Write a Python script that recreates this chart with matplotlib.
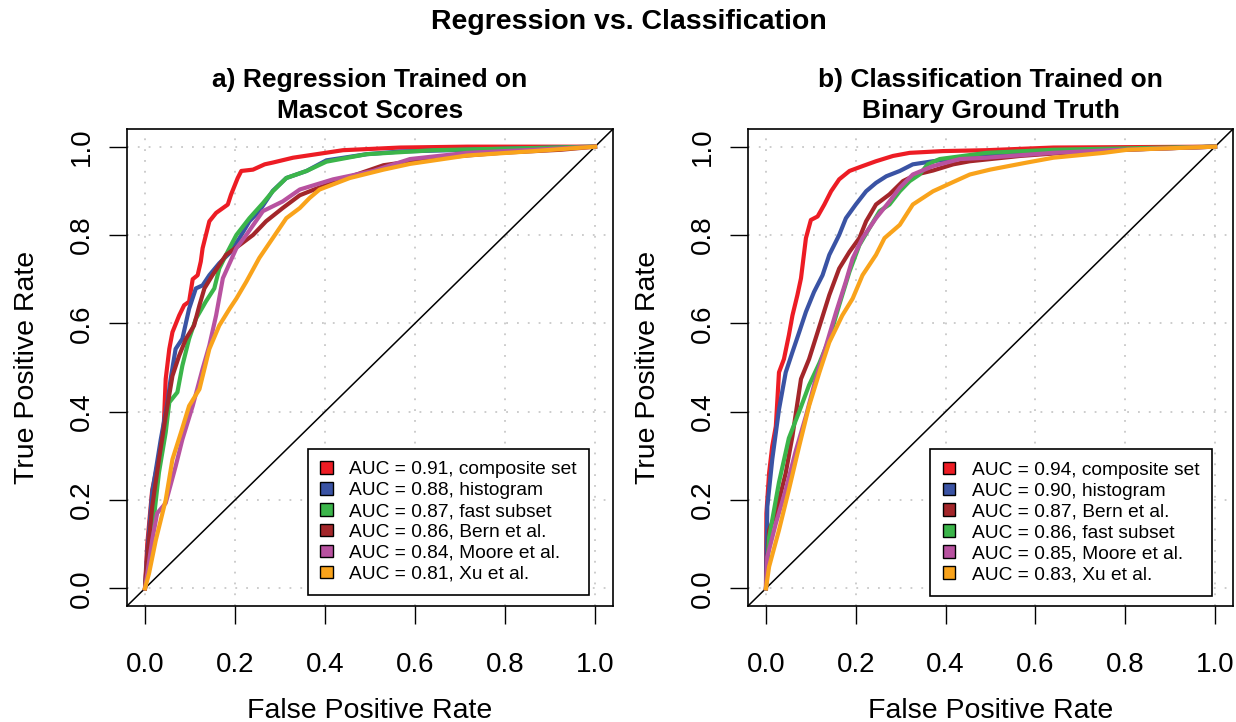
import matplotlib
matplotlib.use("Agg")
import matplotlib.pyplot as plt
from matplotlib.patches import Patch
import numpy as np

plt.rcParams["font.family"] = ["Liberation Sans", "DejaVu Sans"]

# colours used for each scoring method
RED = "#ED1C24"
BLUE = "#3A53A4"
GREEN = "#3BB54A"
DARKRED = "#A3262A"
MAGENTA = "#B852A0"
ORANGE = "#F9A31B"

# ---- a) regression trained on Mascot scores ----
reg_labels = [
    "AUC = 0.91, composite set",
    "AUC = 0.88, histogram",
    "AUC = 0.87, fast subset",
    "AUC = 0.86, Bern et al.",
    "AUC = 0.84, Moore et al.",
    "AUC = 0.81, Xu et al.",
]
reg_colors = [RED, BLUE, GREEN, DARKRED, MAGENTA, ORANGE]

reg_composite_fpr = [0, 0.005, 0.016, 0.024, 0.035, 0.042, 0.046, 0.054, 0.061, 0.076, 0.087, 0.098,
                     0.106, 0.117, 0.124, 0.128, 0.143, 0.158, 0.184, 0.191, 0.206, 0.214, 0.24,
                     0.266, 0.284, 0.329, 0.388, 0.44, 0.567, 0.716, 1.0]
reg_composite_tpr = [0, 0.10, 0.223, 0.262, 0.314, 0.375, 0.474, 0.542, 0.58, 0.618, 0.641, 0.649,
                     0.70, 0.709, 0.74, 0.77, 0.831, 0.85, 0.869, 0.891, 0.929, 0.945, 0.948,
                     0.96, 0.964, 0.975, 0.984, 0.992, 0.998, 1.0, 1.0]

reg_histogram_fpr = [0, 0.005, 0.016, 0.035, 0.05, 0.057, 0.068, 0.083, 0.098, 0.113, 0.128, 0.143,
                     0.165, 0.188, 0.21, 0.232, 0.254, 0.284, 0.314, 0.359, 0.403, 0.493, 0.567,
                     0.679, 0.79, 1.0]
reg_histogram_tpr = [0, 0.08, 0.216, 0.337, 0.421, 0.474, 0.542, 0.565, 0.633, 0.679, 0.686, 0.709,
                     0.736, 0.759, 0.793, 0.831, 0.854, 0.9, 0.929, 0.945, 0.969, 0.983, 0.989,
                     0.992, 0.995, 1.0]

reg_fast_fpr = [0, 0.005, 0.02, 0.031, 0.046, 0.054, 0.072, 0.083, 0.098, 0.113, 0.135, 0.154,
                0.165, 0.18, 0.203, 0.232, 0.262, 0.284, 0.314, 0.359, 0.403, 0.493, 0.641, 1.0]
reg_fast_tpr = [0, 0.049, 0.162, 0.262, 0.353, 0.421, 0.444, 0.504, 0.565, 0.61, 0.649, 0.679,
                0.724, 0.755, 0.80, 0.838, 0.872, 0.899, 0.929, 0.945, 0.966, 0.983, 0.992, 1.0]

reg_bern_fpr = [0, 0.005, 0.016, 0.031, 0.046, 0.061, 0.076, 0.091, 0.109, 0.121, 0.132, 0.15,
                0.18, 0.21, 0.24, 0.269, 0.306, 0.344, 0.381, 0.433, 0.53, 0.641, 0.79, 0.924, 1.0]
reg_bern_tpr = [0, 0.07, 0.185, 0.292, 0.39, 0.481, 0.527, 0.565, 0.595, 0.641, 0.679, 0.709,
                0.755, 0.777, 0.80, 0.831, 0.861, 0.89, 0.905, 0.924, 0.958, 0.974, 0.986, 0.993, 1.0]

reg_moore_fpr = [0, 0.009, 0.016, 0.027, 0.046, 0.068, 0.083, 0.106, 0.128, 0.143, 0.158, 0.173,
                 0.203, 0.225, 0.262, 0.306, 0.344, 0.418, 0.507, 0.589, 0.716, 0.864, 1.0]
reg_moore_tpr = [0, 0.06, 0.109, 0.17, 0.193, 0.276, 0.337, 0.413, 0.497, 0.55, 0.618, 0.702,
                 0.77, 0.80, 0.854, 0.876, 0.903, 0.926, 0.945, 0.972, 0.986, 0.993, 1.0]

reg_xu_fpr = [0, 0.009, 0.024, 0.046, 0.061, 0.08, 0.098, 0.121, 0.143, 0.165, 0.188, 0.203,
              0.225, 0.254, 0.284, 0.314, 0.344, 0.366, 0.388, 0.455, 0.53, 0.589, 0.716, 0.864, 1.0]
reg_xu_tpr = [0, 0.034, 0.109, 0.2, 0.292, 0.353, 0.413, 0.451, 0.542, 0.595, 0.633, 0.656,
              0.694, 0.748, 0.793, 0.838, 0.861, 0.884, 0.903, 0.929, 0.948, 0.961, 0.98, 0.99, 1.0]

# ---- b) classification trained on binary ground truth ----
cls_labels = [
    "AUC = 0.94, composite set",
    "AUC = 0.90, histogram",
    "AUC = 0.87, Bern et al.",
    "AUC = 0.86, fast subset",
    "AUC = 0.85, Moore et al.",
    "AUC = 0.83, Xu et al.",
]
cls_colors = [RED, BLUE, DARKRED, GREEN, MAGENTA, ORANGE]

cls_composite_fpr = [0, 0.001, 0.007, 0.014, 0.022, 0.029, 0.04, 0.051, 0.059, 0.07, 0.078, 0.089,
                     0.1, 0.115, 0.13, 0.145, 0.163, 0.186, 0.215, 0.245, 0.283, 0.32, 0.394,
                     0.491, 0.64, 1.0]
cls_composite_tpr = [0, 0.17, 0.261, 0.322, 0.367, 0.489, 0.519, 0.573, 0.618, 0.664, 0.702, 0.793,
                     0.834, 0.842, 0.869, 0.899, 0.926, 0.945, 0.956, 0.967, 0.979, 0.986, 0.99,
                     0.992, 0.998, 1.0]

cls_histogram_fpr = [0, 0.003, 0.014, 0.029, 0.044, 0.059, 0.074, 0.089, 0.107, 0.126, 0.141, 0.163,
                     0.178, 0.2, 0.223, 0.245, 0.268, 0.298, 0.327, 0.372, 0.432, 0.491, 0.64,
                     0.79, 1.0]
cls_histogram_tpr = [0, 0.185, 0.292, 0.405, 0.489, 0.535, 0.58, 0.626, 0.671, 0.709, 0.755, 0.80,
                     0.838, 0.869, 0.899, 0.918, 0.933, 0.945, 0.96, 0.967, 0.975, 0.979, 0.986,
                     0.993, 1.0]

cls_bern_fpr = [0, 0.007, 0.022, 0.044, 0.059, 0.078, 0.096, 0.115, 0.141, 0.163, 0.186, 0.208,
                0.223, 0.245, 0.275, 0.305, 0.335, 0.372, 0.417, 0.454, 0.566, 0.715, 1.0]
cls_bern_tpr = [0, 0.132, 0.17, 0.261, 0.345, 0.474, 0.519, 0.58, 0.664, 0.724, 0.762, 0.793,
                0.831, 0.869, 0.892, 0.922, 0.937, 0.946, 0.96, 0.967, 0.979, 0.99, 1.0]

cls_fast_fpr = [0, 0.007, 0.029, 0.051, 0.074, 0.096, 0.119, 0.141, 0.163, 0.186, 0.208, 0.23,
                0.253, 0.275, 0.298, 0.32, 0.342, 0.36, 0.387, 0.491, 0.64, 1.0]
cls_fast_tpr = [0, 0.115, 0.24, 0.34, 0.40, 0.46, 0.51, 0.565, 0.641, 0.717, 0.777, 0.815,
                0.854, 0.869, 0.899, 0.922, 0.937, 0.96, 0.972, 0.986, 0.993, 1.0]

cls_moore_fpr = [0, 0.003, 0.022, 0.044, 0.066, 0.089, 0.111, 0.134, 0.156, 0.178, 0.193, 0.215,
                 0.245, 0.275, 0.298, 0.327, 0.372, 0.432, 0.491, 0.64, 0.79, 1.0]
cls_moore_tpr = [0, 0.071, 0.147, 0.223, 0.31, 0.39, 0.475, 0.55, 0.625, 0.695, 0.747, 0.793,
                 0.838, 0.876, 0.907, 0.937, 0.956, 0.972, 0.975, 0.986, 0.993, 1.0]

cls_xu_fpr = [0, 0.007, 0.029, 0.051, 0.074, 0.096, 0.119, 0.141, 0.17, 0.193, 0.215, 0.245,
              0.264, 0.298, 0.327, 0.372, 0.417, 0.454, 0.499, 0.581, 0.64, 0.752, 0.805, 1.0]
cls_xu_tpr = [0, 0.049, 0.132, 0.223, 0.322, 0.413, 0.489, 0.557, 0.618, 0.656, 0.709, 0.755,
              0.793, 0.823, 0.869, 0.899, 0.92, 0.937, 0.948, 0.964, 0.975, 0.986, 0.993, 1.0]

tick_vals = [0.0, 0.2, 0.4, 0.6, 0.8, 1.0]
tick_text = ["0.0", "0.2", "0.4", "0.6", "0.8", "1.0"]


def draw_panel(ax, curves, labels, colors, legend_anchor):
    lo, hi = -0.04, 1.04
    ax.set_xlim(lo, hi)
    ax.set_ylim(lo, hi)

    # dotted light grey grid at the tick positions
    for t in tick_vals:
        ax.axvline(t, color="#C8C8C8", lw=1.3, ls=(0, (1, 5)), zorder=0)
        ax.axhline(t, color="#C8C8C8", lw=1.3, ls=(0, (1, 5)), zorder=0)

    # chance line
    ax.plot([lo, hi], [lo, hi], color="black", lw=1.1, zorder=1)

    for (fpr, tpr), color in zip(curves, colors):
        ax.plot(fpr, tpr, color=color, lw=3.0, zorder=2)

    handles = [Patch(facecolor=c, edgecolor="black", linewidth=1.0) for c in colors]
    leg = ax.legend(handles, labels, loc="lower right", bbox_to_anchor=legend_anchor,
                    borderaxespad=0, fontsize=13.8, fancybox=False, framealpha=1,
                    edgecolor="black", handlelength=0.63, handleheight=0.63,
                    handletextpad=0.87, labelspacing=0.2, borderpad=0.65)
    leg.get_frame().set_linewidth(1.2)
    leg.set_zorder(5)

    ax.set_xticks(tick_vals)
    ax.set_xticklabels(tick_text)
    ax.set_yticks(tick_vals)
    ax.set_yticklabels(tick_text, rotation=90, va="center")
    ax.tick_params(direction="out", length=13, width=1.0, labelsize=20, color="black")
    ax.tick_params(axis="x", pad=20)
    ax.tick_params(axis="y", pad=10)
    for sp in ax.spines.values():
        sp.set_linewidth(1.2)

    ax.set_xlabel("False Positive Rate", fontsize=20.5)
    ax.xaxis.set_label_coords(0.5, -0.22)
    ax.xaxis.label.set_va("center")
    ax.set_ylabel("True Positive Rate", fontsize=20.5)
    ax.yaxis.set_label_coords(-0.206, 0.5)
    ax.yaxis.label.set_va("center")
    ax.yaxis.label.set_ha("center")


W, H = 1236, 722
fig = plt.figure(figsize=(W / 100, H / 100), dpi=100)
ax_a = fig.add_axes([127 / W, 1 - 606 / H, 486 / W, 477 / H])
ax_b = fig.add_axes([748 / W, 1 - 606 / H, 485 / W, 477 / H])

reg_curves = [
    (reg_composite_fpr, reg_composite_tpr),
    (reg_histogram_fpr, reg_histogram_tpr),
    (reg_fast_fpr, reg_fast_tpr),
    (reg_bern_fpr, reg_bern_tpr),
    (reg_moore_fpr, reg_moore_tpr),
    (reg_xu_fpr, reg_xu_tpr),
]
cls_curves = [
    (cls_composite_fpr, cls_composite_tpr),
    (cls_histogram_fpr, cls_histogram_tpr),
    (cls_bern_fpr, cls_bern_tpr),
    (cls_fast_fpr, cls_fast_tpr),
    (cls_moore_fpr, cls_moore_tpr),
    (cls_xu_fpr, cls_xu_tpr),
]

draw_panel(ax_a, reg_curves, reg_labels, reg_colors, (0.951, 0.023))
draw_panel(ax_b, cls_curves, cls_labels, cls_colors, (0.956, 0.022))

fig.text(628.5 / W, 1 - 22 / H, "Regression vs. Classification", ha="center", va="center",
         fontsize=20.5, fontweight="bold")
fig.text(370 / W, 1 - 95.5 / H, "a) Regression Trained on\nMascot Scores", ha="center",
         va="center", fontsize=19, fontweight="bold", linespacing=1.35)
fig.text(990.5 / W, 1 - 95.5 / H, "b) Classification Trained on\nBinary Ground Truth",
         ha="center", va="center", fontsize=19, fontweight="bold", linespacing=1.35)

fig.savefig("out.png", dpi=100)
